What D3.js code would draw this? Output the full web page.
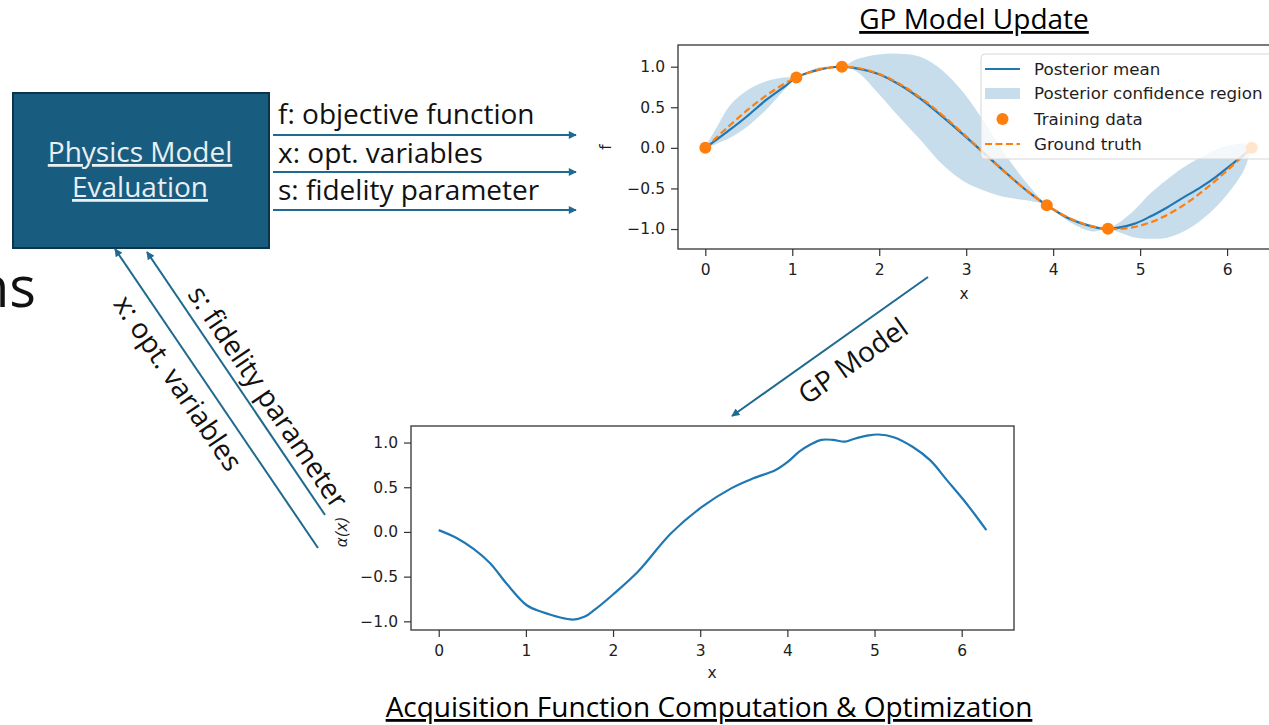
<!DOCTYPE html>
<html>
<head>
<meta charset="utf-8">
<script src="https://cdn.jsdelivr.net/npm/d3@7"></script>
<style>
  body { margin: 0; background: #fff; }
  svg { display: block; }
  .tick text { font-family: "DejaVu Sans", sans-serif; font-size: 15.5px; fill: #1e1e1e; }
  .tick line { stroke: #333; stroke-width: 1.2; }
</style>
</head>
<body>
<svg></svg>
<script>
// --- GP model update chart ---
let gpX     = [0, 0.13, 0.28, 0.47, 0.70, 0.93, 1.047, 1.30, 1.571, 1.74, 1.99, 2.23, 2.48, 2.72, 2.97, 3.22, 3.46, 3.71, 3.927, 4.20, 4.45, 4.63, 4.92, 5.11, 5.30, 5.50, 5.69, 5.88, 6.07, 6.20, 6.283];
let gpMean  = [0, 0.10, 0.22, 0.38, 0.59, 0.77, 0.866, 0.96, 1.00, 0.98, 0.91, 0.78, 0.60, 0.39, 0.16, -0.08, -0.31, -0.54, -0.707, -0.88, -0.97, -0.997, -0.94, -0.85, -0.74, -0.61, -0.49, -0.35, -0.19, -0.08, 0];
let gpUpper = [0.01, 0.25, 0.52, 0.70, 0.82, 0.87, 0.87, 0.99, 1.00, 1.09, 1.15, 1.16, 1.12, 0.96, 0.68, 0.30, -0.10, -0.45, -0.70, -0.86, -0.95, -0.99, -0.78, -0.57, -0.40, -0.24, -0.12, -0.02, 0.04, 0.05, 0];
let gpLower = [-0.01, 0.05, 0.12, 0.25, 0.47, 0.74, 0.866, 0.95, 1.00, 0.94, 0.67, 0.38, 0.09, -0.20, -0.41, -0.53, -0.61, -0.65, -0.71, -0.92, -1.03, -1.00, -1.10, -1.12, -1.11, -1.03, -0.90, -0.72, -0.48, -0.26, 0];

let truthX = [0, 0.25, 0.5, 0.75, 1.0, 1.25, 1.5, 1.75, 2.0, 2.25, 2.5, 2.75, 3.0, 3.25, 3.5, 3.75, 4.0, 4.25, 4.5, 4.75, 5.0, 5.25, 5.5, 5.75, 6.0, 6.25, 6.283];
let truthY = [0, 0.247, 0.479, 0.682, 0.841, 0.949, 0.997, 0.984, 0.909, 0.778, 0.598, 0.382, 0.141, -0.108, -0.351, -0.572, -0.757, -0.895, -0.978, -0.999, -0.959, -0.859, -0.706, -0.508, -0.279, -0.033, 0];

let trainX = [0, 1.047, 1.571, 3.927, 4.63, 6.283];
let trainY = [0, 0.866, 1.0, -0.707, -0.997, 0];

// --- acquisition function chart ---
let acqX = [0, 0.21, 0.40, 0.59, 0.78, 1.01, 1.17, 1.54, 1.67, 1.79, 2.0, 2.29, 2.66, 3.02, 3.36, 3.61, 3.86, 4.0, 4.14, 4.27, 4.39, 4.52, 4.66, 4.76, 4.93, 5.04, 5.22, 5.44, 5.64, 5.83, 6.02, 6.17, 6.283];
let acqY = [0.02, -0.07, -0.19, -0.35, -0.58, -0.82, -0.89, -0.98, -0.95, -0.87, -0.70, -0.44, -0.02, 0.28, 0.49, 0.60, 0.69, 0.78, 0.90, 0.98, 1.03, 1.03, 1.01, 1.04, 1.08, 1.09, 1.06, 0.95, 0.80, 0.58, 0.36, 0.17, 0.02];

let xTicks = [0, 1, 2, 3, 4, 5, 6];
let yTicks = [-1, -0.5, 0, 0.5, 1];

let legendLabels = ["Posterior mean", "Posterior confidence region", "Training data", "Ground truth"];
let outLabels = ["f: objective function", "x: opt. variables", "s: fidelity parameter"];

let svg = d3.select("svg").attr("width", 1269).attr("height", 725);
let diagramFont = "'Open Sans', sans-serif";
let arrowColor = "#1f6a8f";
let blue = "#1f77b4", orange = "#ff7f0e";
let curve = d3.curveCatmullRom.alpha(0.5);

svg.append("defs").append("marker")
    .attr("id", "head")
    .attr("markerUnits", "userSpaceOnUse")
    .attr("viewBox", "0 0 10 10")
    .attr("markerWidth", 10).attr("markerHeight", 8)
    .attr("refX", 9).attr("refY", 5)
    .attr("orient", "auto")
  .append("path")
    .attr("d", "M0,0 L10,5 L0,10 z")
    .attr("fill", arrowColor);

function axes(g, x, y, box) {
    g.append("g")
        .attr("transform", "translate(0," + (box.top + box.height) + ")")
        .call(d3.axisBottom(x).tickValues(xTicks).tickSize(7).tickPadding(8).tickFormat(d3.format("d")))
        .call(a => a.select(".domain").remove());
    g.append("g")
        .attr("transform", "translate(" + box.left + ",0)")
        .call(d3.axisLeft(y).tickValues(yTicks).tickSize(7).tickPadding(6).tickFormat(d3.format(".1f")))
        .call(a => a.select(".domain").remove());
    g.append("rect")
        .attr("x", box.left).attr("y", box.top).attr("width", box.width).attr("height", box.height)
        .attr("fill", "none").attr("stroke", "#333").attr("stroke-width", 1.3);
}

// ---------- top chart ----------
let gpBox = {left: 678, top: 45, width: 601, height: 204};
let x1 = d3.scaleLinear().domain([-0.314, 6.597]).range([gpBox.left, gpBox.left + gpBox.width]);
let y1 = d3.scaleLinear().domain([-1.246, 1.267]).range([gpBox.top + gpBox.height, gpBox.top]);
let g1 = svg.append("g");

let band = d3.area()
    .curve(curve)
    .x(function(d, i) { return x1(gpX[i]); })
    .y0(function(d, i) { return y1(gpLower[i]); })
    .y1(function(d, i) { return y1(gpUpper[i]); });

g1.append("path").datum(gpX)
    .attr("d", band)
    .attr("fill", blue).attr("fill-opacity", 0.25);

g1.append("path").datum(gpX.map((d, i) => [d, gpMean[i]]))
    .attr("d", d3.line().curve(curve).x(d => x1(d[0])).y(d => y1(d[1])))
    .attr("fill", "none").attr("stroke", blue).attr("stroke-width", 2.2);

g1.append("path").datum(truthX.map((d, i) => [d, truthY[i]]))
    .attr("d", d3.line().curve(curve).x(d => x1(d[0])).y(d => y1(d[1])))
    .attr("fill", "none").attr("stroke", orange).attr("stroke-width", 2.2)
    .attr("stroke-dasharray", "7,3.5");

g1.selectAll(".train").data(trainX).enter().append("circle")
    .attr("class", "train")
    .attr("cx", d => x1(d))
    .attr("cy", (d, i) => y1(trainY[i]))
    .attr("r", 6)
    .attr("fill", orange);

axes(g1, x1, y1, gpBox);

// legend
let lg = g1.append("g").attr("transform", "translate(981,54)");
lg.append("rect").attr("width", 320).attr("height", 105).attr("rx", 4)
    .attr("fill", "#fff").attr("fill-opacity", 0.8)
    .attr("stroke", "#d6d6d6").attr("stroke-width", 1);
lg.append("line").attr("x1", 4).attr("x2", 39).attr("y1", 15).attr("y2", 15)
    .attr("stroke", blue).attr("stroke-width", 2.2);
lg.append("rect").attr("x", 4).attr("y", 34).attr("width", 35).attr("height", 11)
    .attr("fill", blue).attr("fill-opacity", 0.25);
lg.append("circle").attr("cx", 21.5).attr("cy", 65).attr("r", 6).attr("fill", orange);
lg.append("line").attr("x1", 4).attr("x2", 39).attr("y1", 90).attr("y2", 90)
    .attr("stroke", orange).attr("stroke-width", 2.2).attr("stroke-dasharray", "7,3.5");
lg.selectAll(".lt").data(legendLabels).enter().append("text")
    .attr("class", "lt")
    .attr("x", 53)
    .attr("y", (d, i) => [15, 39.5, 65, 90][i])
    .attr("dy", "0.35em")
    .style("font", "16.7px 'DejaVu Sans', sans-serif")
    .attr("fill", "#1e1e1e")
    .text(d => d);

g1.append("text").text("x")
    .attr("x", 964).attr("y", 299).attr("text-anchor", "middle")
    .style("font", "15.5px 'DejaVu Sans', sans-serif").attr("fill", "#1e1e1e");
g1.append("text").text("f")
    .attr("transform", "translate(611,147) rotate(-90)").attr("text-anchor", "middle")
    .style("font", "15.5px 'DejaVu Sans', sans-serif").attr("fill", "#1e1e1e");

// ---------- bottom chart ----------
let acqBox = {left: 411, top: 426, width: 603, height: 204};
let x2 = d3.scaleLinear().domain([-0.318, 6.6]).range([acqBox.left, acqBox.left + acqBox.width]);
let y2 = d3.scaleLinear().domain([-1.097, 1.185]).range([acqBox.top + acqBox.height, acqBox.top]);
let g2 = svg.append("g");

g2.append("path").datum(acqX.map((d, i) => [d, acqY[i]]))
    .attr("d", d3.line().curve(curve).x(d => x2(d[0])).y(d => y2(d[1])))
    .attr("fill", "none").attr("stroke", blue).attr("stroke-width", 2.2);

axes(g2, x2, y2, acqBox);

g2.append("text").text("x")
    .attr("x", 712).attr("y", 678).attr("text-anchor", "middle")
    .style("font", "15.5px 'DejaVu Sans', sans-serif").attr("fill", "#1e1e1e");
g2.append("text").text("α(x)")
    .attr("transform", "translate(347,532) rotate(-90)").attr("text-anchor", "middle")
    .style("font", "italic 15px 'DejaVu Sans', sans-serif").attr("fill", "#1e1e1e");

// ---------- titles ----------
svg.append("text").text("GP Model Update")
    .attr("x", 974).attr("y", 29).attr("text-anchor", "middle")
    .style("font", "28px " + diagramFont).style("text-decoration", "underline");
svg.append("text").text("Acquisition Function Computation & Optimization")
    .attr("x", 709).attr("y", 717).attr("text-anchor", "middle")
    .style("font", "28px " + diagramFont).style("text-decoration", "underline");

// ---------- physics model box ----------
svg.append("rect")
    .attr("x", 13).attr("y", 93).attr("width", 256).attr("height", 155)
    .attr("fill", "#185d7f").attr("stroke", "#0d3549").attr("stroke-width", 2);
svg.append("text")
    .attr("x", 140).attr("text-anchor", "middle")
    .style("font", "28px " + diagramFont).style("text-decoration", "underline")
    .attr("fill", "#e9eff3")
    .selectAll("tspan").data(["Physics Model", "Evaluation"]).enter().append("tspan")
    .attr("x", 140).attr("y", (d, i) => [162, 197][i]).text(d => d);

svg.append("text").text("ns")
    .attr("x", 36).attr("y", 307).attr("text-anchor", "end")
    .style("font", "56px " + diagramFont).attr("fill", "#111");

// outgoing arrows
let outY = [135, 172, 210];
svg.selectAll(".out").data(outY).enter().append("line")
    .attr("class", "out")
    .attr("x1", 273).attr("x2", 576)
    .attr("y1", d => d).attr("y2", d => d)
    .attr("stroke", arrowColor).attr("stroke-width", 2)
    .attr("marker-end", "url(#head)");
svg.selectAll(".outl").data(outLabels).enter().append("text")
    .attr("class", "outl")
    .attr("x", 278).attr("y", (d, i) => [124, 163, 200][i])
    .style("font", "28px " + diagramFont).attr("fill", "#111")
    .text(d => d);

// return arrows to the box
let back = [
    {x1: 318, y1: 548, x2: 115, y2: 249, label: "x: opt. variables", cx: 178, cy: 383},
    {x1: 325, y1: 515, x2: 147, y2: 252, label: "s: fidelity parameter", cx: 268, cy: 397}
];
back.forEach(function(b) {
    svg.append("line")
        .attr("x1", b.x1).attr("y1", b.y1).attr("x2", b.x2).attr("y2", b.y2)
        .attr("stroke", arrowColor).attr("stroke-width", 2)
        .attr("marker-end", "url(#head)");
    let ang = Math.atan2(b.y1 - b.y2, b.x1 - b.x2) * 180 / Math.PI;
    svg.append("text").text(b.label)
        .attr("transform", "translate(" + b.cx + "," + b.cy + ") rotate(" + ang + ")")
        .attr("text-anchor", "middle").attr("dy", "0.35em")
        .style("font", "28px " + diagramFont).attr("fill", "#111");
});

// GP model arrow
svg.append("line")
    .attr("x1", 928).attr("y1", 277).attr("x2", 732).attr("y2", 416)
    .attr("stroke", arrowColor).attr("stroke-width", 2)
    .attr("marker-end", "url(#head)");
svg.append("text").text("GP Model")
    .attr("transform", "translate(853,361) rotate(" + (Math.atan2(416 - 277, 732 - 928) * 180 / Math.PI + 180) + ")")
    .attr("text-anchor", "middle").attr("dy", "0.35em")
    .style("font", "28px " + diagramFont).attr("fill", "#111");
</script>
</body>
</html>
